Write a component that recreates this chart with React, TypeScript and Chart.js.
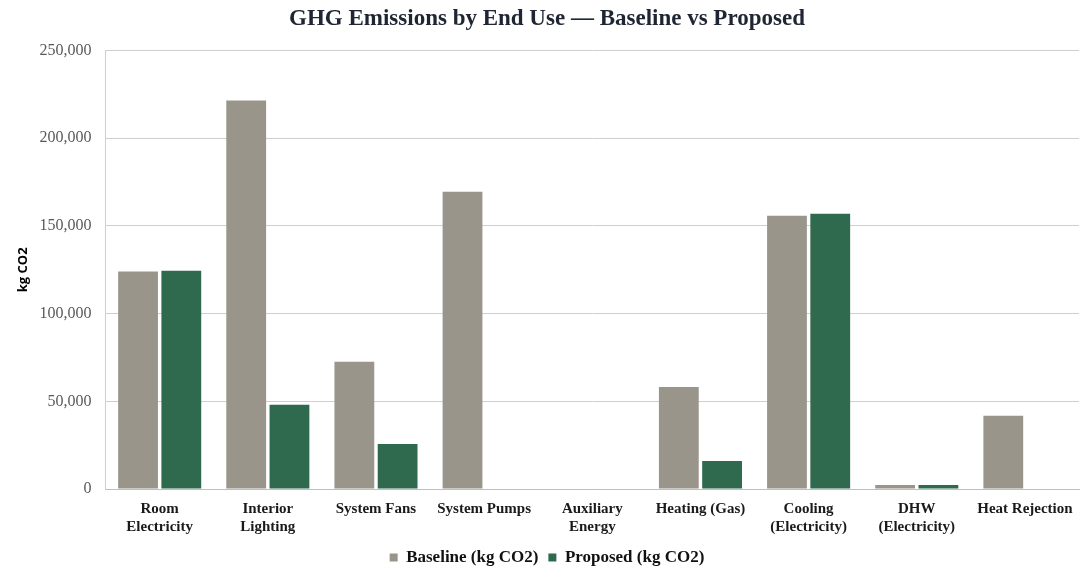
import { useEffect, useRef } from "react";
import { Chart, registerables } from "chart.js";

Chart.register(...registerables);

const categories: (string | string[])[] = [
  ["Room", "Electricity"],
  ["Interior", "Lighting"],
  "System Fans",
  "System Pumps",
  ["Auxiliary", "Energy"],
  "Heating (Gas)",
  ["Cooling", "(Electricity)"],
  ["DHW", "(Electricity)"],
  "Heat Rejection",
];

const baseline = [124000, 221500, 72500, 169500, 0, 58200, 155800, 2300, 41700];
const proposed = [124500, 48000, 25700, 0, 0, 16000, 157000, 2300, 0];

const yTicks = [0, 50000, 100000, 150000, 200000, 250000];

const serif = "'Liberation Serif', 'Times New Roman', serif";

const App = () => {
  const canvasRef = useRef<HTMLCanvasElement | null>(null);

  useEffect(() => {
    document.body.style.margin = "0";
    if (!canvasRef.current) return;

    const chart = new Chart(canvasRef.current, {
      type: "bar",
      data: {
        labels: categories,
        datasets: [
          {
            label: "Baseline (kg CO2)",
            data: baseline,
            backgroundColor: "#9a958a",
            categoryPercentage: 0.8,
            barPercentage: 0.92,
          },
          {
            label: "Proposed (kg CO2)",
            data: proposed,
            backgroundColor: "#2f6a4f",
            categoryPercentage: 0.8,
            barPercentage: 0.92,
          },
        ],
      },
      options: {
        responsive: false,
        animation: false,
        layout: { padding: { left: 15, right: 10, top: 3, bottom: 1 } },
        plugins: {
          title: {
            display: true,
            text: "GHG Emissions by End Use \u2014 Baseline vs Proposed",
            color: "#1f2533",
            font: { family: serif, size: 23, weight: "bold" },
            padding: { top: 2, bottom: 18 },
          },
          legend: {
            position: "bottom",
            labels: {
              boxWidth: 8,
              boxHeight: 8,
              padding: 10,
              color: "#111",
              font: { family: serif, size: 17, weight: "bold" },
            },
          },
          tooltip: { enabled: false },
        },
        scales: {
          x: {
            grid: { display: false },
            border: { display: true, color: "#bfbfbf" },
            ticks: {
              color: "#1a1a1a",
              font: { family: serif, size: 15, weight: "bold" },
              maxRotation: 0,
              autoSkip: false,
              padding: 3,
            },
          },
          y: {
            min: 0,
            max: 250000,
            afterBuildTicks: (axis) => {
              axis.ticks = yTicks.map((v) => ({ value: v }));
            },
            grid: { color: "#cfcfcf", drawTicks: false },
            border: { display: true, color: "#cfcfcf" },
            title: {
              display: true,
              text: "kg CO2",
              color: "#000",
              font: { family: "'Open Sans', 'Liberation Sans', sans-serif", size: 13, weight: "bold" },
              padding: { top: 0, bottom: -5 },
            },
            ticks: {
              color: "#595959",
              font: { family: serif, size: 16 },
              padding: 14,
              callback: (v) => Number(v).toLocaleString("en-US"),
            },
          },
        },
      },
    });

    return () => {
      chart.destroy();
    };
  }, []);

  return (
    <div style={{ width: 1089, height: 577, background: "#fff" }}>
      <canvas ref={canvasRef} width={1089} height={577}></canvas>
    </div>
  );
};

export default App;
